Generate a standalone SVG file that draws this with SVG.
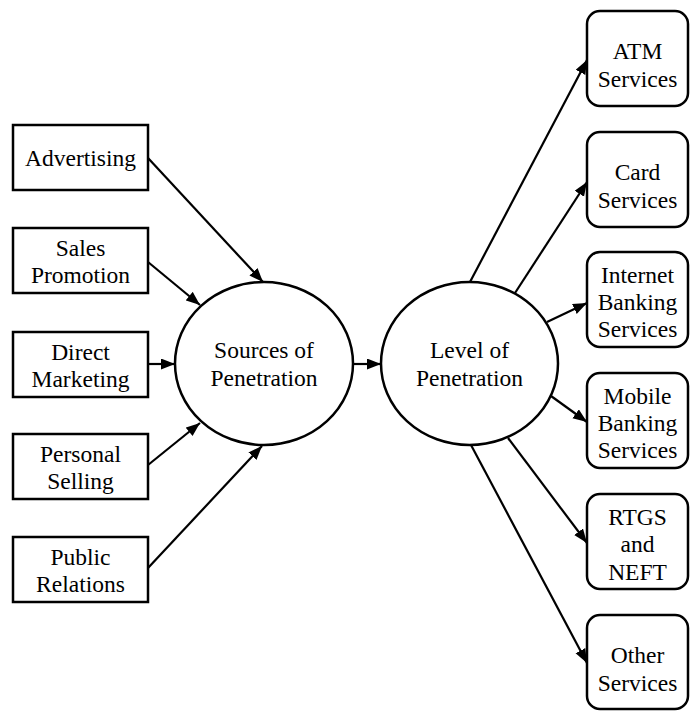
<svg xmlns="http://www.w3.org/2000/svg" width="690" height="711" viewBox="0 0 690 711">
<style>
.box{fill:#fff;stroke:#000;stroke-width:2.5}
.ell{fill:#fff;stroke:#000;stroke-width:2.5}
.t{font-size:23.5px;fill:#000;text-anchor:middle}
.c line{stroke:#000;stroke-width:2.2;marker-end:url(#ah)}
</style>
<defs>
<marker id="ah" markerUnits="userSpaceOnUse" markerWidth="15" markerHeight="12" refX="14" refY="5.5" orient="auto">
<path d="M0,0 L14,5.5 L0,11 z" fill="#000"/>
</marker>
</defs>
<rect width="690" height="711" fill="#fff"/>
<g class="c" id="connectors">
<line x1="148" y1="158" x2="263" y2="282"/>
<line x1="148" y1="262" x2="200" y2="305"/>
<line x1="148" y1="364" x2="175" y2="364"/>
<line x1="148" y1="465" x2="200" y2="423"/>
<line x1="148" y1="568" x2="262" y2="446"/>
<line x1="353" y1="364" x2="381" y2="364"/>
<line x1="470" y1="282" x2="587" y2="60"/>
<line x1="515" y1="293" x2="587" y2="182"/>
<line x1="547" y1="322" x2="587" y2="303"/>
<line x1="551" y1="396" x2="587" y2="422"/>
<line x1="508" y1="438" x2="587" y2="543"/>
<line x1="471" y1="445" x2="587" y2="663"/>
</g>
<g font-family="Liberation Serif, Times New Roman, DejaVu Serif, serif">
<g id="advertising"><rect class="box" x="13" y="125" width="135" height="65"/><text class="t" x="80.5" y="166">Advertising</text></g>
<g id="sales-promotion"><rect class="box" x="13" y="228" width="135" height="65"/><text class="t" x="80.5" y="256">Sales</text><text class="t" x="80.5" y="283">Promotion</text></g>
<g id="direct-marketing"><rect class="box" x="13" y="332" width="135" height="65"/><text class="t" x="80.5" y="360">Direct</text><text class="t" x="80.5" y="387">Marketing</text></g>
<g id="personal-selling"><rect class="box" x="13" y="434" width="135" height="65"/><text class="t" x="80.5" y="462">Personal</text><text class="t" x="80.5" y="489">Selling</text></g>
<g id="public-relations"><rect class="box" x="13" y="537" width="135" height="65"/><text class="t" x="80.5" y="565">Public</text><text class="t" x="80.5" y="592">Relations</text></g>
<g id="sources"><ellipse class="ell" cx="264" cy="363.5" rx="89" ry="81.5"/><text class="t" x="264" y="358">Sources of</text><text class="t" x="264" y="386">Penetration</text></g>
<g id="level"><ellipse class="ell" cx="469.5" cy="363.5" rx="88.5" ry="81.5"/><text class="t" x="469.5" y="358">Level of</text><text class="t" x="469.5" y="386">Penetration</text></g>
<g id="atm"><rect class="box" x="587" y="11" width="101" height="95" rx="13"/><text class="t" x="637.5" y="59">ATM</text><text class="t" x="637.5" y="87">Services</text></g>
<g id="card"><rect class="box" x="587" y="132" width="101" height="95" rx="13"/><text class="t" x="637.5" y="180">Card</text><text class="t" x="637.5" y="208">Services</text></g>
<g id="internet"><rect class="box" x="587" y="252" width="101" height="95" rx="13"/><text class="t" x="637.5" y="283">Internet</text><text class="t" x="637.5" y="310">Banking</text><text class="t" x="637.5" y="337">Services</text></g>
<g id="mobile"><rect class="box" x="587" y="373" width="101" height="95" rx="13"/><text class="t" x="637.5" y="404">Mobile</text><text class="t" x="637.5" y="431">Banking</text><text class="t" x="637.5" y="458">Services</text></g>
<g id="rtgs"><rect class="box" x="587" y="494" width="101" height="95" rx="13"/><text class="t" x="637.5" y="525">RTGS</text><text class="t" x="637.5" y="552">and</text><text class="t" x="637.5" y="580">NEFT</text></g>
<g id="other"><rect class="box" x="587" y="615" width="101" height="94" rx="13"/><text class="t" x="637.5" y="663">Other</text><text class="t" x="637.5" y="691">Services</text></g>
</g>
</svg>
